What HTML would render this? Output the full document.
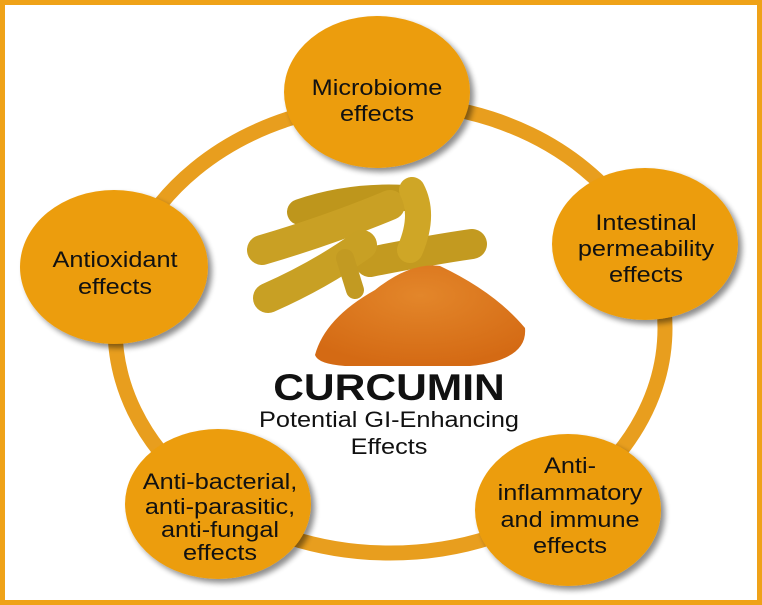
<!DOCTYPE html>
<html><head><meta charset="utf-8"><style>
html,body{margin:0;padding:0;background:#fff}
svg{display:block}
text{font-family:"Liberation Sans",Arial,sans-serif;fill:#111}
</style></head><body>
<svg width="762" height="605" viewBox="0 0 762 605" xmlns="http://www.w3.org/2000/svg">
<defs>
<radialGradient id="pw" cx="0.5" cy="0.3" r="0.7"><stop offset="0" stop-color="#E3862A"/><stop offset="1" stop-color="#D46A14"/></radialGradient>
<filter id="sh" x="-20%" y="-20%" width="150%" height="150%"><feGaussianBlur in="SourceAlpha" stdDeviation="3"/><feOffset dx="4" dy="4"/><feComponentTransfer><feFuncA type="linear" slope="0.45"/></feComponentTransfer><feMerge><feMergeNode/><feMergeNode in="SourceGraphic"/></feMerge></filter>
</defs>
<rect x="2.5" y="2.5" width="757" height="600" fill="#fff" stroke="#EFA218" stroke-width="5"/>
<ellipse cx="390" cy="328" rx="275" ry="225" fill="none" stroke="#E89E1E" stroke-width="15"/>
<g stroke-linecap="round" fill="none">
<path d="M300,212 Q350,195 405,198" stroke="#BE961C" stroke-width="26"/>
<path d="M262,250 Q330,230 390,205" stroke="#C9A024" stroke-width="30"/>
<path d="M370,262 Q430,250 472,244" stroke="#C39A20" stroke-width="30"/>
<path d="M410,250 Q425,215 412,190" stroke="#CFA626" stroke-width="26"/>
<path d="M268,298 Q320,275 362,245" stroke="#C8A024" stroke-width="30"/>
<path d="M345,258 L355,290" stroke="#C29A22" stroke-width="18"/>
</g>
<path d="M315,355 Q325,318 375,290 Q410,262 440,266 Q495,292 525,328 Q528,360 470,366 L345,366 Q318,364 315,355 Z" fill="url(#pw)"/>
<g fill="#EC9D0C" filter="url(#sh)">
<ellipse cx="377" cy="92" rx="93" ry="76"/>
<ellipse cx="645" cy="244" rx="93" ry="76"/>
<ellipse cx="114" cy="267" rx="94" ry="77"/>
<ellipse cx="218" cy="504" rx="93" ry="75"/>
<ellipse cx="568" cy="510" rx="93" ry="76"/>
</g>
<g font-size="22" text-anchor="middle">
<g transform="translate(377,0) scale(1.15,1)"><text x="0" y="95">Microbiome</text><text x="0" y="121">effects</text></g>
<g transform="translate(646,0) scale(1.15,1)"><text x="0" y="230">Intestinal</text><text x="0" y="256">permeability</text><text x="0" y="282">effects</text></g>
<g transform="translate(115,0) scale(1.15,1)"><text x="0" y="267">Antioxidant</text><text x="0" y="294">effects</text></g>
<g transform="translate(220,0) scale(1.15,1)"><text x="0" y="489">Anti-bacterial,</text><text x="0" y="514">anti-parasitic,</text><text x="0" y="537">anti-fungal</text><text x="0" y="560">effects</text></g>
<g transform="translate(570,0) scale(1.15,1)"><text x="0" y="473">Anti-</text><text x="0" y="500">inflammatory</text><text x="0" y="527">and immune</text><text x="0" y="553">effects</text></g>
<g transform="translate(389,0) scale(1.15,1)">
<text x="0" y="400" font-size="37" font-weight="bold">CURCUMIN</text>
<text x="0" y="427" font-size="22">Potential GI-Enhancing</text>
<text x="0" y="454" font-size="22">Effects</text>
</g>
</g>
</svg>
</body></html>
